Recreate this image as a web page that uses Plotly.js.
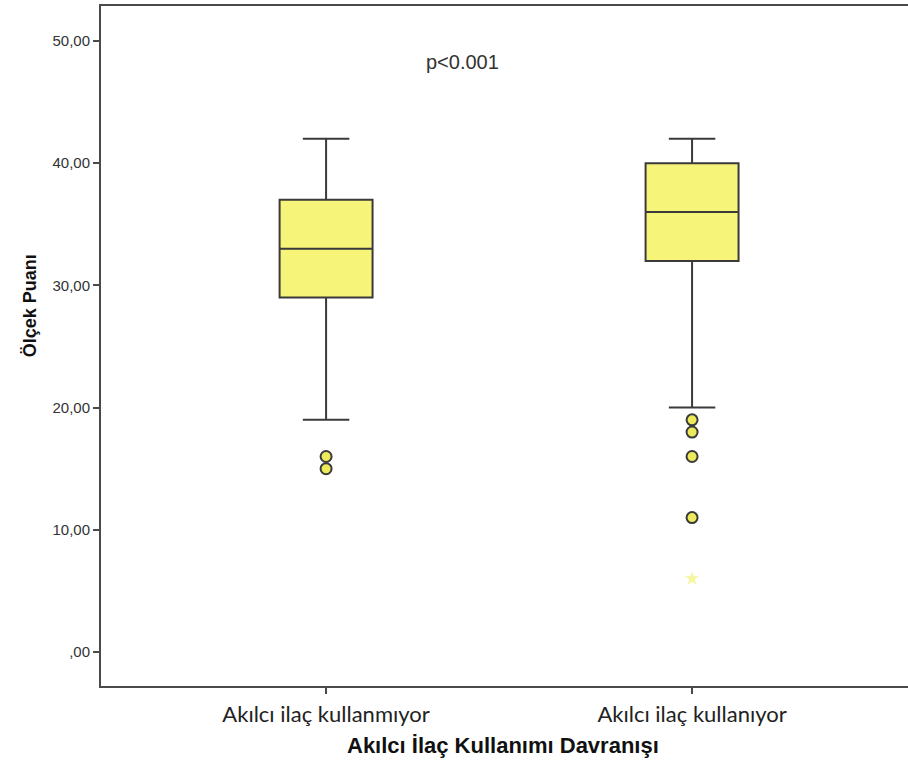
<!DOCTYPE html>
<html>
<head>
<meta charset="utf-8">
<script src="https://cdn.plot.ly/plotly-3.0.1.min.js"></script>
<style>html,body{margin:0;padding:0;background:#fff;}#chart{width:908px;height:762px;}</style>
</head>
<body>
<div id="chart"></div>
<script>
// Data
var categories = ["Akılcı ilaç kullanmıyor", "Akılcı ilaç kullanıyor"];
var lowerFence = [19, 20];
var q1Values = [29, 32];
var medianValues = [33, 36];
var q3Values = [37, 40];
var upperFence = [42, 42];
var outlierCats = ["Akılcı ilaç kullanmıyor", "Akılcı ilaç kullanmıyor",
                   "Akılcı ilaç kullanıyor", "Akılcı ilaç kullanıyor", "Akılcı ilaç kullanıyor", "Akılcı ilaç kullanıyor"];
var outlierValues = [16, 15, 19, 18, 16, 11];
var extremeCats = ["Akılcı ilaç kullanıyor"];
var extremeValues = [6];
var yTickVals = [0, 10, 20, 30, 40, 50];
var yTickText = [",00", "10,00", "20,00", "30,00", "40,00", "50,00"];
var pText = "p<0.001";
var xTitle = "Akılcı İlaç Kullanımı Davranışı";
var yTitle = "Ölçek Puanı";

var boxTrace = {
  type: "box",
  x: categories,
  q1: q1Values,
  median: medianValues,
  q3: q3Values,
  lowerfence: lowerFence,
  upperfence: upperFence,
  width: 0.254,
  whiskerwidth: 0.5,
  fillcolor: "#F7F47A",
  line: {color: "#3a3a3a", width: 2},
  boxpoints: false,
  hoverinfo: "skip",
  showlegend: false
};

var outlierTrace = {
  type: "scatter",
  mode: "markers",
  x: outlierCats,
  y: outlierValues,
  marker: {symbol: "circle", size: 11, color: "#EDEB5C", line: {color: "#3a3a3a", width: 2}},
  showlegend: false,
  hoverinfo: "skip"
};

var extremeTrace = {
  type: "scatter",
  mode: "markers",
  x: extremeCats,
  y: extremeValues,
  marker: {symbol: "star", size: 11, color: "#F8F5A0", line: {width: 0}},
  showlegend: false,
  hoverinfo: "skip"
};

var layout = {
  width: 908,
  height: 762,
  margin: {l: 101, r: 0, t: 6, b: 76},
  paper_bgcolor: "#ffffff",
  plot_bgcolor: "#ffffff",
  font: {family: "Liberation Sans, Arial, sans-serif", color: "#333"},
  showlegend: false,
  xaxis: {
    type: "category",
    categoryorder: "array",
    categoryarray: categories,
    range: [-0.615, 1.59],
    showline: true,
    mirror: true,
    linecolor: "#4a4a4a",
    linewidth: 2,
    ticks: "outside",
    ticklen: 6,
    tickwidth: 2,
    tickcolor: "#4a4a4a",
    ticklabelstandoff: 2,
    showgrid: false,
    zeroline: false,
    tickfont: {family: "Lato, 'Open Sans', sans-serif", size: 22, color: "#222"}
  },
  yaxis: {
    range: [-2.78, 52.86],
    tickvals: yTickVals,
    ticktext: yTickText,
    showline: true,
    mirror: false,
    linecolor: "#4a4a4a",
    linewidth: 2,
    ticks: "outside",
    ticklen: 6,
    tickwidth: 2,
    tickcolor: "#4a4a4a",
    showgrid: false,
    zeroline: false,
    tickfont: {family: "Liberation Sans, Arial, sans-serif", size: 15, color: "#333"}
  },
  annotations: [
    {
      x: 0.372, xref: "x", y: 48.3, yref: "y",
      text: pText, showarrow: false,
      font: {family: "Liberation Sans, Arial, sans-serif", size: 20, color: "#333"}
    },
    {
      x: 0.498, xref: "paper", y: -0.0868, yref: "paper",
      xanchor: "center", yanchor: "middle",
      text: "<b>" + xTitle + "</b>", showarrow: false,
      font: {family: "Liberation Sans, Arial, sans-serif", size: 22, color: "#111"}
    },
    {
      x: -0.088, xref: "paper", y: 0.56, yref: "paper",
      xanchor: "center", yanchor: "middle", textangle: -90,
      text: "<b>" + yTitle + "</b>", showarrow: false,
      font: {family: "Liberation Sans, Arial, sans-serif", size: 18, color: "#111"}
    }
  ]
};

Plotly.newPlot("chart", [boxTrace, outlierTrace, extremeTrace], layout, {staticPlot: true, displayModeBar: false});
</script>
</body>
</html>
